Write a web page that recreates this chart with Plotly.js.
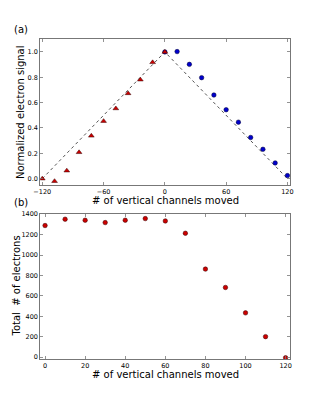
<!DOCTYPE html>
<html>
<head>
<meta charset="utf-8">
<script src="https://cdn.plot.ly/plotly-3.0.1.min.js"></script>
<style>
  html, body { margin: 0; padding: 0; background: #fff; }
  #plot { width: 322px; height: 400px; }
</style>
</head>
<body>
<div id="plot"></div>
<script>
// (a) normalized signal vs channels moved
var xNeg = [-120, -108, -96, -84, -72, -60, -48, -36, -24, -12, 0];
var yNeg = [0.0, -0.02, 0.063, 0.208, 0.338, 0.454, 0.554, 0.673, 0.781, 0.918, 1.0];
var xPos = [0, 12, 24, 36, 48, 60, 72, 84, 96, 108, 120];
var yPos = [1.0, 1.003, 0.902, 0.797, 0.66, 0.544, 0.446, 0.325, 0.232, 0.124, 0.024];
var xFit = [-120, 0, 120];
var yFit = [0, 1, 0];

// (b) total electrons vs channels moved
var xTot = [0, 10, 20, 30, 40, 50, 60, 70, 80, 90, 100, 110, 120];
var yTot = [1289, 1351, 1341, 1318, 1341, 1357, 1334, 1213, 862, 682, 433, 200, -7];

var tickFont = {family: "DejaVu Sans", size: 6.5, color: "#000"};
var titleFont = {family: "DejaVu Sans", size: 10, color: "#000"};

function frameAxis(extra) {
  var ax = {
    showline: true, linecolor: "#777", linewidth: 1, mirror: "allticks",
    ticks: "inside", ticklen: 3, tickcolor: "#777", tickwidth: 0.8,
    showgrid: false, zeroline: false, tickfont: tickFont
  };
  for (var k in extra) ax[k] = extra[k];
  return ax;
}

function label(text, px, py, angle) {
  return {text: text, xref: "paper", yref: "paper", x: px / 322, y: 1 - py / 400,
    xanchor: "center", yanchor: "middle", showarrow: false, textangle: angle || 0, font: titleFont};
}

var data = [
  {x: xFit, y: yFit, mode: "lines", line: {color: "#555", width: 1, dash: "3px,3px"},
   xaxis: "x", yaxis: "y", hoverinfo: "skip"},
  {x: xPos, y: yPos, mode: "markers", xaxis: "x", yaxis: "y",
   marker: {symbol: "circle", size: 4.5, color: "#0000cc", line: {color: "#000033", width: 0.5}}},
  {x: xNeg, y: yNeg, mode: "markers", xaxis: "x", yaxis: "y",
   marker: {symbol: "triangle-up", size: 5, color: "#cc0000", line: {color: "#330000", width: 0.5}}},
  {x: xTot, y: yTot, mode: "markers", xaxis: "x2", yaxis: "y2",
   marker: {symbol: "circle", size: 4.5, color: "#cc0000", line: {color: "#330000", width: 0.5}}}
];

var layout = {
  width: 322, height: 400,
  margin: {l: 0, r: 0, t: 0, b: 0},
  paper_bgcolor: "#fff", plot_bgcolor: "#fff",
  showlegend: false,
  xaxis: frameAxis({domain: [0.125, 0.9006], range: [-122, 122.5], tickvals: [-120, -60, 0, 60, 120],
    ticktext: ["\u2212120", "\u221260", "0", "60", "120"], anchor: "y"}),
  yaxis: frameAxis({domain: [0.5375, 0.9018], range: [-0.05, 1.1], tickvals: [0, 0.2, 0.4, 0.6, 0.8, 1.0],
    tickformat: ".1f", anchor: "x"}),
  xaxis2: frameAxis({domain: [0.125, 0.9006], range: [-2.4, 122.2], dtick: 20, anchor: "y2"}),
  yaxis2: frameAxis({domain: [0.1018, 0.465], range: [-22, 1402], dtick: 200, anchor: "x2"}),
  annotations: [
    label("(a)", 21, 29),
    label("(b)", 21, 202),
    label("# of vertical channels moved", 165, 200),
    label("# of vertical channels moved", 165, 374),
    label("Normalized electron signal", 20, 112, -90),
    label("Total  # of electrons", 16, 286.5, -90)
  ]
};

Plotly.newPlot("plot", data, layout, {displayModeBar: false, staticPlot: true});
</script>
</body>
</html>
